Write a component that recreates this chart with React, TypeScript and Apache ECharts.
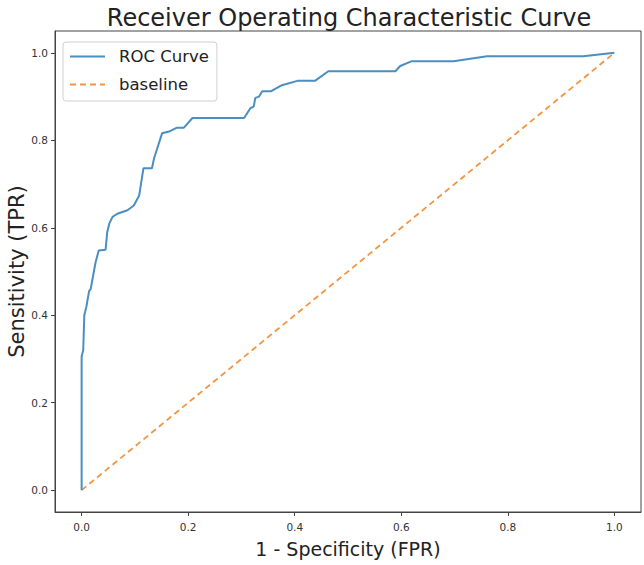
import React, { useEffect, useRef } from "react";
import * as echarts from "echarts";

const FONT = "DejaVu Sans";

const rocFpr = [
  0, 0, 0.003, 0.005, 0.009, 0.014, 0.017, 0.026, 0.032, 0.045, 0.048, 0.052, 0.058, 0.067,
  0.086, 0.098, 0.108, 0.111, 0.116, 0.132, 0.136, 0.142, 0.151, 0.164, 0.179, 0.192, 0.208,
  0.305, 0.317, 0.323, 0.326, 0.333, 0.339, 0.355, 0.376, 0.405, 0.438, 0.463, 0.589, 0.598,
  0.62, 0.698, 0.761, 0.942, 1,
];
const rocTpr = [
  0, 0.306, 0.32, 0.4, 0.42, 0.455, 0.46, 0.52, 0.548, 0.55, 0.59, 0.61, 0.625, 0.632, 0.64,
  0.651, 0.674, 0.697, 0.736, 0.736, 0.759, 0.782, 0.816, 0.82, 0.829, 0.829, 0.851, 0.851,
  0.874, 0.877, 0.897, 0.9, 0.912, 0.912, 0.926, 0.936, 0.936, 0.958, 0.958, 0.97, 0.981,
  0.981, 0.992, 0.992, 1,
];
const baselineX = [0, 1];
const baselineY = [0, 1];
const tickValues = [0, 0.2, 0.4, 0.6, 0.8, 1.0];

export default function App() {
  const ref = useRef<HTMLDivElement>(null);
  useEffect(() => {
    if (!ref.current) return;
    const chart = echarts.init(ref.current, null, { renderer: "svg" });
    const axisCommon = {
      type: "value" as const,
      min: -0.05,
      max: 1.05,
      splitLine: { show: false },
      axisLine: { show: true, onZero: false, lineStyle: { color: "#444", width: 1 } },
      axisTick: {
        show: true,
        length: 4,
        customValues: tickValues,
        lineStyle: { color: "#444" },
      },
      axisLabel: {
        customValues: tickValues,
        formatter: (v: number) => v.toFixed(1),
        fontFamily: FONT,
        fontSize: 10.5,
        color: "#333",
      },
      nameLocation: "middle" as const,
      nameMoveOverlap: false,
    };
    chart.setOption({
      animation: false,
      backgroundColor: "#fff",
      title: {
        text: "Receiver Operating Characteristic Curve",
        left: 344,
        textAlign: "center",
        top: 1,
        textStyle: { fontFamily: FONT, fontSize: 24, fontWeight: "normal", color: "#222" },
      },
      grid: {
        left: 55,
        right: 3,
        top: 31,
        bottom: 53,
        show: true,
        borderColor: "#444",
        borderWidth: 1,
        containLabel: false,
        outerBoundsMode: "none",
      },
      legend: {
        orient: "vertical",
        left: 63,
        top: 42,
        padding: [6, 8, 8, 6],
        itemWidth: 35,
        itemHeight: 14,
        itemGap: 11,
        borderColor: "#d0d0d0",
        borderWidth: 1,
        borderRadius: 3,
        itemStyle: { opacity: 0 },
        textStyle: { fontFamily: FONT, fontSize: 16.5, color: "#222", padding: [0, 0, 0, 9] },
        data: ["ROC Curve", "baseline"],
      },
      xAxis: {
        ...axisCommon,
        name: "1 - Specificity (FPR)",
        nameGap: 27,
        nameTextStyle: { fontFamily: FONT, fontSize: 19, color: "#222" },
        axisLabel: { ...axisCommon.axisLabel, margin: 9 },
      },
      yAxis: {
        ...axisCommon,
        name: "Sensitivity (TPR)",
        nameGap: 28,
        nameTextStyle: { fontFamily: FONT, fontSize: 21, color: "#222" },
        axisLabel: { ...axisCommon.axisLabel, margin: 7 },
      },
      series: [
        {
          name: "ROC Curve",
          type: "line",
          data: rocFpr.map((x, i) => [x, rocTpr[i]]),
          symbol: "none",
          lineStyle: { color: "#4a8fc1", width: 2 },
          itemStyle: { color: "#4a8fc1" },
          z: 3,
        },
        {
          name: "baseline",
          type: "line",
          data: baselineX.map((x, i) => [x, baselineY[i]]),
          symbol: "none",
          lineStyle: { color: "#f39440", width: 1.8, type: [6, 4] },
          itemStyle: { color: "#f39440" },
          z: 2,
        },
      ],
    });
    return () => chart.dispose();
  }, []);
  return (
    <div
      ref={ref}
      style={{ width: 644, height: 565, position: "fixed", left: 0, top: 0 }}
    />
  );
}
